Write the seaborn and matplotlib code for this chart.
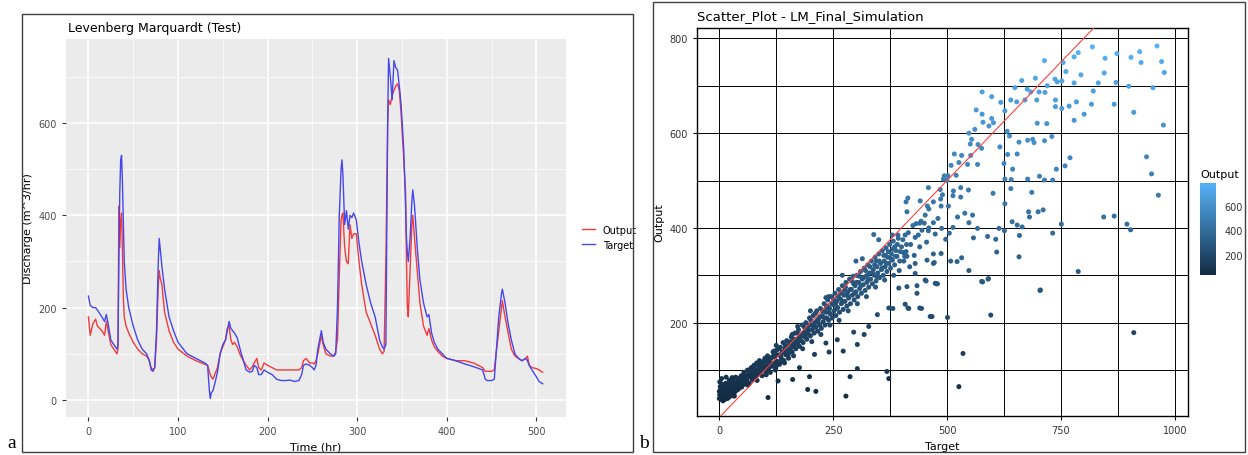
import numpy as np
import pandas as pd
import seaborn as sns
import matplotlib.pyplot as plt
from matplotlib.colors import LinearSegmentedColormap, Normalize
from matplotlib.cm import ScalarMappable
from matplotlib.patches import Rectangle

# ---- panel a: test time series ----
hours = [0, 2, 5, 8, 10, 15, 18, 20, 22, 25, 30, 32, 33, 34, 35, 36, 37, 38, 39, 40,
         42, 45, 50, 55, 60, 65, 68, 70, 72, 74, 76, 78, 79, 80, 82, 85, 90, 95, 100, 110,
         120, 130, 133, 135, 136, 137, 139, 141, 144, 147, 150, 153, 155, 157, 159, 161, 163, 166, 170, 173,
         176, 180, 183, 185, 188, 190, 193, 196, 200, 205, 210, 215, 220, 225, 230, 235, 238, 240, 243, 247,
         250, 252, 254, 256, 258, 260, 262, 265, 270, 274, 276, 278, 280, 282, 283, 284, 286, 288, 290, 292,
         294, 296, 299, 302, 305, 310, 315, 320, 325, 328, 330, 332, 334, 335, 337, 339, 341, 343, 345, 347,
         349, 352, 354, 355, 356, 357, 359, 361, 362, 364, 367, 370, 374, 378, 380, 383, 386, 390, 395, 400,
         410, 420, 430, 440, 443, 445, 450, 453, 455, 458, 461, 462, 465, 468, 472, 476, 480, 484, 488, 490,
         492, 495, 500, 503, 507]
output_test = [180, 140, 165, 175, 160, 150, 140, 170, 150, 120, 105, 100, 110, 420, 330, 390, 405, 320, 220, 180,
               160, 145, 125, 110, 100, 95, 85, 70, 65, 70, 130, 250, 280, 265, 250, 190, 150, 125, 110, 95,
               85, 77, 75, 62, 55, 50, 45, 55, 70, 100, 115, 130, 155, 160, 130, 120, 125, 115, 95, 85,
               75, 65, 72, 80, 90, 70, 65, 80, 75, 70, 65, 65, 65, 65, 65, 65, 70, 85, 90, 80,
               80, 78, 85, 100, 120, 140, 120, 100, 95, 95, 105, 130, 270, 390, 400, 405, 330, 300, 295, 380,
               350, 360, 360, 300, 250, 190, 165, 140, 110, 100, 105, 300, 600, 650, 640, 660, 670, 680, 685, 670,
               620, 520, 450, 300, 200, 180, 280, 380, 400, 350, 280, 210, 160, 140, 155, 130, 115, 105, 95, 90,
               85, 85, 80, 70, 62, 62, 62, 65, 100, 150, 200, 215, 180, 150, 110, 95, 90, 85, 90, 95,
               75, 70, 68, 65, 60]
target_test = [225, 205, 200, 200, 195, 180, 170, 185, 165, 130, 115, 110, 120, 300, 450, 520, 530, 470, 380, 300,
               240, 200, 160, 130, 110, 100, 85, 65, 62, 70, 150, 300, 350, 330, 290, 240, 180, 150, 125, 100,
               90, 80, 75, 20, 3, 15, 20, 35, 60, 100, 120, 130, 150, 170, 155, 150, 145, 135, 105, 85,
               65, 60, 62, 75, 70, 55, 55, 65, 60, 55, 45, 42, 42, 43, 40, 42, 55, 75, 78, 75,
               70, 65, 75, 110, 130, 150, 125, 110, 100, 95, 100, 200, 400, 500, 520, 490, 380, 410, 370, 400,
               395, 405, 390, 340, 300, 250, 210, 180, 130, 115, 110, 120, 600, 740, 700, 650, 735, 720, 715, 680,
               640, 540, 420, 350, 320, 300, 350, 430, 455, 420, 330, 260, 210, 180, 185, 145, 125, 110, 100, 90,
               85, 78, 72, 65, 45, 42, 42, 45, 100, 180, 230, 240, 210, 170, 130, 100, 90, 85, 90, 85,
               75, 65, 50, 40, 35]

# ---- panel b: full simulation scatter, (target, output) pairs ----
cluster_pts = [(2, 45), (3, 60), (4, 38), (5, 52), (6, 70), (7, 42), (8, 55), (9, 48), (10, 65), (11, 40),
               (12, 58), (13, 50), (14, 72), (15, 45), (16, 62), (17, 53), (18, 40), (19, 68), (20, 50), (21, 57),
               (22, 78), (23, 46), (24, 63), (25, 55), (26, 70), (27, 49), (28, 60), (29, 80), (30, 52), (31, 66),
               (32, 58), (34, 72), (35, 55), (36, 85), (38, 62), (40, 70), (42, 60), (44, 78), (46, 66), (48, 88),
               (50, 72), (1, 75), (5, 82), (15, 85), (28, 84), (33, 45), (8, 35), (12, 38), (20, 42), (3, 50),
               (10, 50), (18, 55), (25, 45), (0, 40), (0, 55), (1, 48), (2, 65), (4, 45), (6, 50), (7, 62),
               (9, 40), (11, 52), (13, 44), (14, 60), (16, 48), (17, 70), (19, 46), (21, 64), (23, 55), (24, 72),
               (26, 50), (27, 58), (30, 68), (32, 48), (34, 62), (37, 75), (39, 58), (41, 82), (43, 68), (45, 74),
               (47, 80), (49, 64)]
band_low = [(52, 80), (54, 95), (56, 70), (58, 88), (60, 78), (62, 100), (64, 85), (66, 72), (68, 92), (70, 105),
            (72, 80), (74, 95), (76, 110), (78, 86), (80, 98), (82, 115), (84, 90), (86, 102), (88, 120), (90, 95),
            (92, 108), (94, 88), (96, 118), (98, 100), (100, 125), (102, 96), (104, 110), (106, 130), (108, 102),
            (110, 118), (112, 95), (114, 125), (116, 108), (118, 138), (120, 115), (55, 82), (65, 92), (75, 88),
            (85, 110), (95, 105), (105, 118), (115, 112)]
band_mid = [(122, 128), (124, 105), (126, 142), (128, 118), (130, 132), (132, 112), (134, 148), (136, 125),
            (138, 138), (140, 158), (142, 120), (144, 145), (146, 132), (148, 162), (150, 140), (152, 125),
            (154, 155), (156, 145), (158, 170), (160, 138), (162, 160), (164, 150), (166, 178), (168, 145),
            (170, 165), (172, 155), (174, 185), (176, 150), (178, 172), (180, 162), (182, 195), (184, 158),
            (186, 180), (188, 170), (190, 200), (192, 165), (194, 188), (196, 175), (198, 210), (200, 172),
            (125, 118), (135, 130), (145, 152), (155, 138), (165, 165), (175, 168), (185, 172), (195, 182)]
band_high = [(202, 195), (204, 185), (206, 215), (208, 178), (210, 200), (212, 190), (214, 225), (216, 182),
             (218, 208), (220, 195), (222, 230), (224, 188), (226, 215), (228, 202), (230, 240), (232, 195),
             (234, 222), (236, 210), (238, 248), (240, 205), (242, 230), (244, 218), (246, 255), (248, 210),
             (250, 238), (252, 225), (254, 262), (256, 215), (258, 245), (260, 232), (262, 270), (264, 222),
             (266, 250), (268, 240), (270, 278), (272, 228), (274, 258), (276, 245), (278, 285), (280, 235),
             (282, 265), (284, 252), (286, 292), (288, 240), (290, 270), (292, 258), (294, 298), (296, 248),
             (298, 278), (300, 265), (215, 205), (235, 232), (255, 240), (275, 268), (295, 282)]
band_top = [(302, 300), (304, 255), (306, 285), (308, 272), (310, 308), (312, 262), (314, 292), (316, 280),
            (318, 315), (320, 268), (322, 298), (324, 285), (326, 322), (328, 275), (330, 305), (332, 292),
            (334, 330), (336, 282), (338, 312), (340, 300), (342, 338), (344, 288), (346, 318), (348, 305),
            (350, 345), (352, 295), (354, 325), (356, 312), (358, 352), (360, 300), (362, 330), (364, 318),
            (366, 358), (368, 308), (370, 338), (372, 325), (374, 365), (376, 315), (378, 345), (380, 332),
            (382, 372), (385, 322), (388, 352), (390, 340), (393, 378), (396, 330), (400, 360), (404, 348),
            (408, 385), (412, 340), (325, 300), (345, 330), (365, 342), (385, 360)]
band_extra = [(53, 75), (57, 90), (61, 84), (67, 98), (71, 88), (77, 102), (81, 92), (87, 108), (91, 115),
              (97, 110), (101, 104), (107, 122), (111, 108), (117, 128), (121, 135), (127, 112), (131, 145),
              (137, 118), (141, 138), (147, 150), (151, 132), (157, 160), (161, 150), (167, 158), (171, 178),
              (177, 162), (181, 175), (187, 190), (191, 178), (197, 195), (201, 205), (207, 192), (211, 220),
              (217, 200), (221, 212), (227, 225), (231, 210), (237, 235), (241, 222), (247, 240), (251, 250),
              (257, 230), (261, 255), (267, 262), (271, 245), (277, 275), (281, 258), (287, 270), (291, 288),
              (297, 262), (301, 285), (307, 298), (311, 278), (317, 295), (321, 310), (327, 290), (331, 318),
              (337, 305), (341, 322), (347, 296), (351, 330), (357, 315), (361, 342), (367, 325), (371, 350),
              (377, 335), (381, 355), (387, 340), (391, 365), (397, 350), (403, 375), (407, 340), (411, 365),
              (395, 310), (383, 300), (363, 290), (343, 275), (323, 255), (303, 240), (283, 225), (263, 205),
              (243, 195), (223, 175), (203, 160), (183, 145), (163, 130), (143, 115), (123, 100), (103, 90),
              (83, 78), (63, 68), (200, 225), (240, 255), (300, 330), (350, 375), (380, 385), (160, 175),
              (120, 140), (270, 300)]
outliers_low = [(107, 42), (194, 59), (212, 55), (278, 45), (287, 86), (303, 103), (368, 97), (372, 82),
                (161, 80), (129, 77), (176, 105), (209, 133), (241, 138), (272, 140), (259, 164), (303, 154),
                (295, 180), (328, 192), (347, 217), (318, 175), (234, 157), (125, 152), (198, 86), (339, 386),
                (314, 335), (234, 253), (172, 192)]
spread_mid = [(394, 273), (412, 276), (434, 262), (408, 239), (414, 231), (440, 231), (463, 213), (372, 231),
              (430, 304), (452, 290), (474, 283), (470, 325), (430, 325), (456, 332), (381, 230), (416, 230),
              (444, 230), (477, 282), (467, 213), (501, 211), (596, 216), (535, 135), (526, 65), (578, 286),
              (590, 292), (704, 268), (788, 308), (910, 179), (430, 380), (445, 395), (460, 400), (420, 365),
              (410, 350), (440, 360), (455, 370), (470, 345), (480, 420), (470, 455), (460, 440), (500, 500),
              (490, 470), (415, 390), (425, 405), (437, 385), (450, 410), (405, 330), (418, 318), (428, 342),
              (392, 385), (410, 455), (440, 410)]
spread_upper = [(819, 782), (714, 753), (788, 770), (779, 761), (755, 749), (847, 758), (873, 768), (904, 760),
                (923, 772), (926, 749), (961, 784), (971, 751), (977, 728), (975, 617), (845, 727), (832, 706),
                (821, 689), (871, 707), (899, 699), (952, 696), (910, 644), (867, 661), (817, 661), (801, 640),
                (779, 627), (784, 666), (768, 657), (752, 652), (738, 656), (738, 670), (794, 723), (779, 706),
                (761, 730), (752, 710), (737, 714), (742, 708), (720, 700), (715, 686), (702, 687), (697, 670),
                (694, 716), (684, 687), (676, 693), (664, 711), (671, 670), (698, 621), (719, 620), (730, 593),
                (714, 584), (691, 580), (688, 587), (677, 585), (658, 581), (649, 696), (653, 666), (640, 670),
                (627, 647), (618, 665), (632, 604), (637, 594), (633, 555), (654, 556), (616, 571), (602, 622),
                (598, 631), (592, 615), (577, 687), (598, 677), (564, 649), (577, 640), (579, 623), (561, 608),
                (548, 600), (554, 587), (568, 576), (551, 577), (576, 568), (516, 556), (532, 553), (552, 553),
                (545, 534), (567, 534), (526, 538), (509, 532), (520, 511), (502, 510), (494, 510), (492, 503),
                (459, 485), (485, 481), (486, 461), (514, 478), (513, 468), (530, 485), (530, 465), (547, 480),
                (503, 446), (487, 446), (457, 446), (452, 427), (412, 434), (414, 463), (441, 457), (432, 409),
                (443, 414), (470, 411), (459, 394), (474, 387), (488, 399), (497, 376), (523, 423), (539, 431),
                (556, 427), (548, 411), (513, 401), (505, 389), (487, 346), (472, 327), (508, 330), (522, 329),
                (532, 337), (548, 310), (479, 282), (454, 288), (434, 278), (576, 287), (591, 293), (609, 349),
                (558, 379), (567, 399), (589, 382), (607, 376), (614, 399), (626, 394), (643, 413), (654, 406),
                (665, 402), (659, 384), (658, 339), (627, 451), (640, 483), (627, 503), (641, 502), (625, 536),
                (644, 524), (601, 473), (677, 503), (686, 475), (703, 509), (714, 501), (732, 501), (740, 524),
                (759, 531), (770, 548), (679, 434), (700, 434), (711, 438), (681, 423), (751, 408), (732, 389),
                (705, 269), (844, 423), (867, 425), (895, 408), (903, 396), (938, 550), (949, 514), (964, 469)]

sim_groups = [cluster_pts, band_low, band_mid, band_high, band_top, band_extra,
              outliers_low, spread_mid, spread_upper]

test_df = pd.DataFrame({
    'Time': hours * 2,
    'Discharge': output_test + target_test,
    'series': ['Output'] * len(hours) + ['Target'] * len(hours),
})
pts = [p for g in sim_groups for p in g]
sim_df = pd.DataFrame(pts, columns=['Target', 'Output'])

fig = plt.figure(figsize=(12.48, 4.56), dpi=100)

# outer frames and panel letters
fig.patches.append(Rectangle((0.0176, 0.0066), 0.4896, 0.9605, transform=fig.transFigure,
                             fill=False, edgecolor='#404040', linewidth=1))
fig.patches.append(Rectangle((0.5232, 0.0066), 0.4744, 0.9868, transform=fig.transFigure,
                             fill=False, edgecolor='#404040', linewidth=1))
fig.text(0.006, 0.018, 'a', fontsize=14, family=['Liberation Serif', 'DejaVu Serif'])
fig.text(0.512, 0.018, 'b', fontsize=14, family=['Liberation Serif', 'DejaVu Serif'])

# ---- panel a ----
ax1 = fig.add_axes([0.0529, 0.0833, 0.4006, 0.829])
ax1.set_facecolor('#EBEBEB')
sns.lineplot(data=test_df, x='Time', y='Discharge', hue='series', sort=False, estimator=None,
             palette={'Output': '#F03C3C', 'Target': '#4646EE'}, linewidth=1.0, ax=ax1)
ax1.set_xlim(-25, 533)
ax1.set_ylim(-37, 782)
ax1.set_xticks([0, 100, 200, 300, 400, 500])
ax1.set_xticks([50, 150, 250, 350, 450], minor=True)
ax1.set_yticks([0, 200, 400, 600])
ax1.set_yticks([100, 300, 500, 700], minor=True)
ax1.grid(which='major', color='white', linewidth=1.1)
ax1.grid(which='minor', color='white', linewidth=0.5)
ax1.set_axisbelow(True)
for s in ax1.spines.values():
    s.set_visible(False)
ax1.tick_params(which='major', length=3, color='#333333', labelsize=7, labelcolor='#4D4D4D')
ax1.tick_params(which='minor', length=0)
ax1.set_xlabel('Time (hr)', fontsize=8)
ax1.set_ylabel('Discharge (m^3/hr)', fontsize=8)
leg = ax1.legend(loc='center left', bbox_to_anchor=(1.015, 0.476), frameon=False, fontsize=7,
                 handlelength=1.3, title=None)
fig.text(0.0545, 0.93, 'Levenberg Marquardt (Test)', fontsize=9)

# ---- panel b ----
ax2 = fig.add_axes([0.5585, 0.0855, 0.3934, 0.851])
cmap = LinearSegmentedColormap.from_list('gg', ['#132B43', '#56B1F7'])
norm = Normalize(vmin=sim_df['Output'].min(), vmax=sim_df['Output'].max())
ax2.axline((0, 0), slope=1, color='#FF4040', linewidth=0.8, zorder=3)
sns.scatterplot(data=sim_df, x='Target', y='Output', hue='Output', palette=cmap, hue_norm=norm,
                s=13, linewidth=0, legend=False, ax=ax2, zorder=2)
ax2.set_xlim(-49, 1029)
ax2.set_ylim(3, 822)
ax2.set_xticks([0, 250, 500, 750, 1000])
ax2.set_xticks([125, 375, 625, 875], minor=True)
ax2.set_yticks([200, 400, 600, 800])
ax2.set_yticks([100, 300, 500, 700], minor=True)
ax2.grid(which='both', color='black', linewidth=0.7)
ax2.set_axisbelow(True)
for s in ax2.spines.values():
    s.set_color('black')
    s.set_linewidth(1)
ax2.tick_params(which='major', length=3, color='black', labelsize=7, labelcolor='#333333')
ax2.tick_params(which='minor', length=0)
ax2.set_xlabel('Target', fontsize=8)
ax2.set_ylabel('Output', fontsize=8)
fig.text(0.5585, 0.955, 'Scatter_Plot - LM_Final_Simulation', fontsize=9.5)

cax = fig.add_axes([0.9615, 0.3947, 0.0125, 0.2018])
cb = fig.colorbar(ScalarMappable(norm=norm, cmap=cmap), cax=cax)
cb.outline.set_visible(False)
cb.set_ticks([200, 400, 600])
cax.tick_params(length=3, color='white', labelsize=7, labelcolor='#333333')
fig.text(0.9615, 0.61, 'Output', fontsize=8)

fig.savefig('out.png', dpi=100)
